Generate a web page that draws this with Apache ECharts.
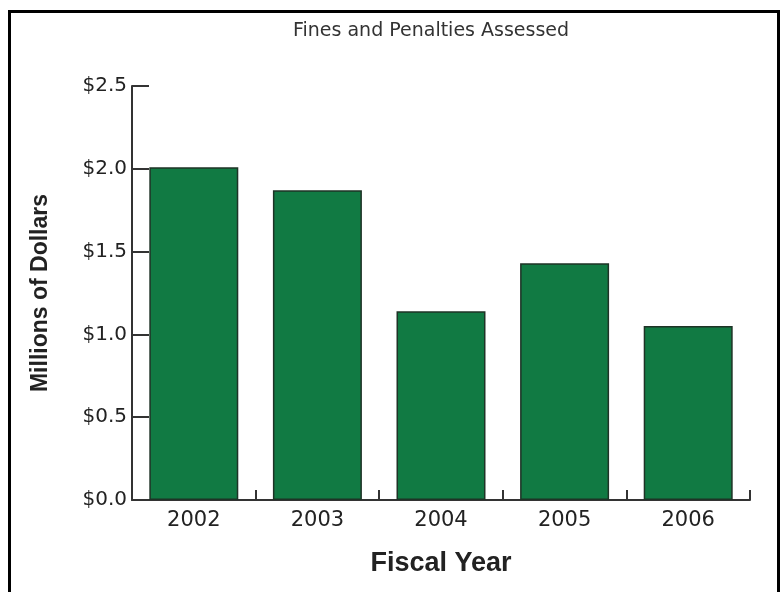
<!DOCTYPE html>
<html>
<head>
<meta charset="utf-8">
<script src="https://cdn.jsdelivr.net/npm/echarts@6/dist/echarts.min.js"></script>
<style>
  html, body { margin: 0; padding: 0; background: #fff; }
  #frame {
    position: absolute; left: 8px; top: 10px; width: 772px; height: 590px;
    border-left: 3px solid #000; border-top: 3px solid #000; border-right: 3px solid #000;
    box-sizing: border-box;
  }
  #chart { position: absolute; left: 0; top: 0; width: 782px; height: 592px; }
</style>
</head>
<body>
<div id="frame"></div>
<div id="chart"></div>
<script>
const years = ['2002', '2003', '2004', '2005', '2006'];
const fines = [2.01, 1.87, 1.14, 1.43, 1.05];
const yTicks = [0, 0.5, 1.0, 1.5, 2.0, 2.5];

const chart = echarts.init(document.getElementById('chart'));
const axisColor = '#333';

chart.setOption({
  animation: false,
  title: {
    text: 'Fines and Penalties Assessed',
    left: 426,
    top: 17,
    textAlign: 'center',
    textStyle: {color: '#333', fontSize: 19, fontWeight: 'normal', fontFamily: 'DejaVu Sans'}
  },
  grid: {left: 132, right: 32, top: 86, bottom: 92},
  xAxis: {
    type: 'category',
    data: years,
    name: 'Fiscal Year',
    nameLocation: 'middle',
    nameGap: 50,
    nameTextStyle: {color: '#222', fontSize: 27, fontWeight: 'bold', fontFamily: 'Liberation Sans'},
    axisLine: {lineStyle: {color: axisColor, width: 2}},
    axisTick: {show: true, inside: true, length: 10, lineStyle: {color: axisColor, width: 2}},
    axisLabel: {color: '#222', fontSize: 21, margin: 10, fontFamily: 'DejaVu Sans'}
  },
  yAxis: {
    type: 'value',
    min: yTicks[0],
    max: yTicks[yTicks.length - 1],
    interval: 0.5,
    name: 'Millions of Dollars',
    nameLocation: 'middle',
    nameGap: 80,
    nameTextStyle: {color: '#222', fontSize: 23, fontWeight: 'bold', fontFamily: 'Liberation Sans'},
    axisLine: {show: true, lineStyle: {color: axisColor, width: 2}},
    axisTick: {show: true, inside: true, length: 17, lineStyle: {color: axisColor, width: 2}},
    splitLine: {show: false},
    axisLabel: {
      color: '#222', fontSize: 20, margin: 5, fontFamily: 'DejaVu Sans',
      formatter: v => '$' + v.toFixed(1)
    }
  },
  series: [{
    type: 'bar',
    data: fines,
    barWidth: '72%',
    itemStyle: {color: '#117a43', borderColor: '#1e3326', borderWidth: 1.5}
  }]
});
</script>
</body>
</html>
